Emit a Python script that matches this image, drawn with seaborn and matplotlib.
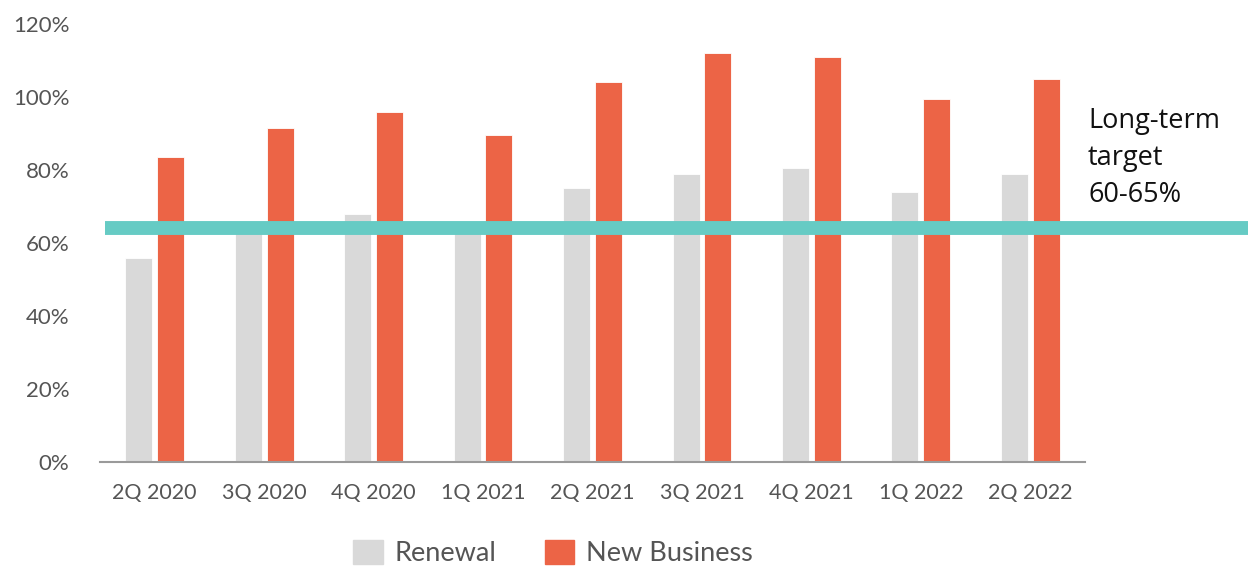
import matplotlib
matplotlib.use('Agg')
import matplotlib.pyplot as plt
import seaborn as sns
import pandas as pd

# data
quarters = ['2Q 2020', '3Q 2020', '4Q 2020', '1Q 2021', '2Q 2021',
            '3Q 2021', '4Q 2021', '1Q 2022', '2Q 2022']
renewal = [56, 63, 68, 63, 75, 79, 80.5, 74, 79]
new_business = [83.5, 91.5, 96, 89.5, 104, 112, 111, 99.5, 105]
target = 64
series_names = ['Renewal', 'New Business']
colors = ['#D9D9D9', '#EC6446']

df = pd.DataFrame({
    'quarter': quarters * 2,
    'value': renewal + new_business,
    'series': [series_names[0]] * len(quarters) + [series_names[1]] * len(quarters),
})

sns.set_style('white')
plt.rcParams['font.family'] = ['Lato', 'DejaVu Sans']

W, H = 1248, 571
fig = plt.figure(figsize=(W / 100, H / 100), dpi=100)
ax = fig.add_axes([100 / W, 109 / H, 985 / W, 438 / H])

sns.barplot(data=df, x='quarter', y='value', hue='series', palette=colors,
            width=0.58, gap=0.15, ax=ax, legend=False, saturation=1,
            edgecolor='white', linewidth=0.6)

ax.set_xlim(-0.5, 8.5)
ax.set_ylim(0, 120)
ax.set_yticks(range(0, 121, 20))
ax.set_yticklabels([f'{v}%' for v in range(0, 121, 20)])
ax.set_xlabel('')
ax.set_ylabel('')
ax.tick_params(axis='both', length=0, labelcolor='#555555')
ax.tick_params(axis='x', pad=15, labelsize=15.5)
ax.tick_params(axis='y', pad=22, labelsize=16)

for s in ['top', 'right', 'left']:
    ax.spines[s].set_visible(False)
ax.spines['bottom'].set_color('#9a9a9a')
ax.spines['bottom'].set_linewidth(1.5)

# long-term target line, runs past the plot area
ax.axhline(target, xmin=5 / 985, xmax=(W - 100) / 985, color='#66CBC4',
           linewidth=10, clip_on=False, zorder=5, solid_capstyle='butt')
fig.text(1088 / W, 1 - 158 / H, 'Long-term\ntarget\n60-65%', fontsize=19.5,
         family=['Open Sans', 'DejaVu Sans'],
         color='#111111', va='center', ha='left', linespacing=1.45)

handles = [plt.Rectangle((0, 0), 1, 1, color=c) for c in colors]
fig.legend(handles, series_names, loc='center', bbox_to_anchor=(553 / W, 1 - 553 / H),
           ncol=2, frameon=False, fontsize=19.5, labelcolor='#555555',
           handlelength=1.1, handleheight=1.03, handletextpad=0.44, columnspacing=1.77)

fig.savefig('out.png', dpi=100)
